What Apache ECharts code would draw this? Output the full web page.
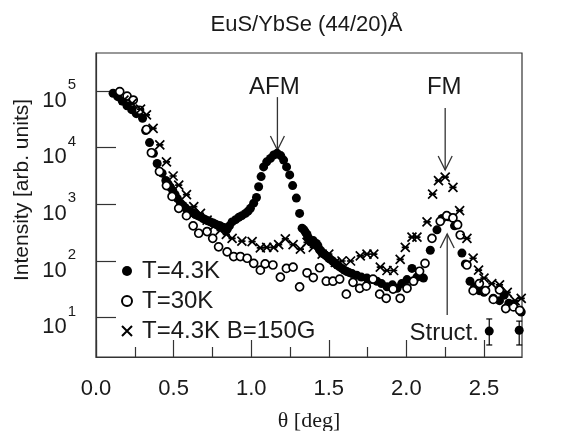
<!DOCTYPE html>
<html><head><meta charset="utf-8">
<script src="https://cdn.jsdelivr.net/npm/echarts@6/dist/echarts.min.js"></script>
<style>html,body{margin:0;padding:0;background:#fff}#c{width:561px;height:431px}</style>
</head><body><div id="c"></div>
<script>
// ---- data (theta in deg, intensity in arb. units) ----
const thetaA = [0.11,0.14,0.17,0.20,0.23,0.26,0.30,0.32,0.345,0.37,0.394,0.426,0.45,0.465,0.48,0.495,0.51,0.525,0.545,0.56,0.575,0.59,0.608,0.625,0.64,0.655,0.673,0.69,0.705,0.72,0.737,0.755,0.77,0.785,0.80,0.81,0.825,0.835,0.845,0.86,0.877,0.90,0.92,0.94,0.963,0.98,0.995,1.016,1.034,1.048,1.064,1.08,1.10,1.124,1.145,1.167,1.19,1.209,1.228,1.248,1.267,1.291,1.312,1.328,1.34,1.349,1.36,1.365,1.37,1.381,1.39,1.40,1.41,1.42,1.43,1.44,1.45,1.456,1.47,1.48,1.49,1.50,1.51,1.525,1.54,1.553,1.57,1.585,1.60,1.617,1.63,1.65,1.68,1.71,1.746,1.78,1.81,1.84,1.875,1.91,1.94,1.97,2.004,2.036,2.068,2.11,2.154,2.197,2.23,2.27,2.31,2.358,2.38,2.41,2.44,2.47,2.50,2.534,2.56,2.60,2.63,2.66,2.69,2.727,2.74];
const intA = [91200,79400,66100,55000,46800,39800,33100,20000,12300,7940,5250,3550,2630,2290,2000,1740,1480,1260,1050,955,871,794,741,708,661,631,603,562,537,513,490,468,447,427,417,398,389,372,363,417,490,537,589,631,692,759,851,1050,1320,2040,3090,4570,5620,6460,7410,7940,7240,6030,4570,3310,2140,1290,692,380,355,324,295,263,251,219,214,229,200,204,186,158,151,138,132,126,120,112,107,100,91,85,79,74,69,65,63,60,56,52,50,47,44,40,35,38,33,40,47,74,52,50,155,355,562,603,417,138,89,44,35,30,28,5.8,22,20,25,18,16,6.0,12.6];

const thetaB = [0.153,0.20,0.24,0.28,0.325,0.357,0.409,0.454,0.49,0.533,0.583,0.626,0.662,0.716,0.752,0.79,0.845,0.887,0.93,0.974,1.016,1.059,1.09,1.14,1.188,1.227,1.27,1.312,1.36,1.40,1.441,1.484,1.527,1.57,1.613,1.656,1.699,1.742,1.785,1.828,1.87,1.914,1.96,2.004,2.046,2.085,2.12,2.165,2.218,2.26,2.30,2.33,2.347,2.39,2.43,2.47,2.51,2.56,2.60,2.64,2.69,2.73];
const intB = [97700,81300,69200,45700,20900,8130,3800,2140,1380,851,631,417,309,331,251,178,145,120,120,112,91,69,89,85,52,74,78,35,62,51,76,44,44,48,26,42,33,36,48,26,22,32,22,33,44,66,91,251,501,631,575,437,288,85,30,40,30,21,31,14.5,15.5,13.5];

const thetaC = [0.18,0.233,0.287,0.325,0.368,0.411,0.454,0.497,0.533,0.583,0.63,0.673,0.716,0.76,0.80,0.84,0.877,0.94,1.006,1.059,1.10,1.145,1.177,1.22,1.27,1.317,1.36,1.40,1.457,1.50,1.542,1.585,1.64,1.703,1.746,1.79,1.832,1.875,1.918,1.96,1.993,2.036,2.068,2.133,2.169,2.207,2.25,2.30,2.343,2.39,2.43,2.465,2.50,2.55,2.60,2.65,2.70,2.74];
const intC = [69200,60300,47900,38000,21900,11200,5620,3160,2190,1480,912,692,525,417,347,295,251,224,219,170,174,174,195,245,195,162,214,174,132,132,95,100,100,123,132,132,78,68,68,107,174,263,263,490,1510,2630,3020,2000,776,251,112,69,50,40,38,28,20,22];

// error bars (T=4.3K tail)
const errTheta = [2.534, 2.727];
const errLow = [3.3, 3.3];
const errHigh = [9.5, 8.7];

const seriesNames = ['T=4.3K', 'T=30K', 'T=4.3K B=150G'];
const xMajorTicks = [0, 0.5, 1.0, 1.5, 2.0, 2.5];
const xMinorTicks = [0.25, 0.75, 1.25, 1.75, 2.25, 2.75];
const yTicks = [10, 100, 1000, 10000, 100000];
const titleText = 'EuS/YbSe (44/20)Å';
const xTitle = 'θ [deg]';
const yTitle = 'Intensity [arb. units]';

const pair = (xs, ys) => xs.map((x, i) => [x, ys[i]]);
const crossPath = 'path://M0,0L10,10M10,0L0,10M1,5L9,5';
const crossLegend = 'path://M0,0L10,10M10,0L0,10';
const ink = '#1a1a1a';
const SANS = 'Liberation Sans, Arial, Helvetica, sans-serif';

const chart = echarts.init(document.getElementById('c'));
chart.setOption({
  animation: false,
  backgroundColor: '#fff',
  grid: { left: 96, right: 39, top: 53, bottom: 74, containLabel: false, outerBoundsMode: 'none',
    show: true, borderColor: '#333', borderWidth: 1.2, backgroundColor: 'transparent' },
  xAxis: [{
    type: 'value', min: 0, max: 2.745,
    name: xTitle, nameLocation: 'middle', nameGap: 53,
    nameTextStyle: { fontFamily: 'Liberation Serif, Times New Roman, serif', fontSize: 22, color: ink },
    axisLine: { show: true, lineStyle: { color: '#333', width: 1.2 } },
    axisTick: { show: true, inside: true, length: 17, customValues: xMajorTicks, lineStyle: { color: '#333', width: 1.2 } },
    axisLabel: { customValues: xMajorTicks, formatter: v => v.toFixed(1), fontFamily: SANS, fontSize: 22, color: ink, margin: 21 },
    splitLine: { show: false }
  }, {
    type: 'value', min: 0, max: 2.745, position: 'bottom',
    axisLine: { show: false },
    axisTick: { show: true, inside: true, length: 10, customValues: xMinorTicks, lineStyle: { color: '#333', width: 1.2 } },
    axisLabel: { show: false }, splitLine: { show: false }
  }],
  yAxis: {
    type: 'log', logBase: 10, min: 2.025, max: 468000,
    axisLine: { show: true, lineStyle: { color: '#333', width: 1.2 } },
    axisTick: { show: true, inside: true, length: 20, customValues: yTicks, lineStyle: { color: '#333', width: 1.2 } },
    axisLabel: {
      customValues: yTicks, margin: 20, color: ink, padding: [7, 0, 0, 0],
      formatter: v => '{b|10}{s|' + Math.round(Math.log10(v)) + '}',
      rich: {
        b: { fontFamily: SANS, fontSize: 22, color: ink, padding: [12, 0, 0, 0], verticalAlign: 'bottom' },
        s: { fontFamily: SANS, fontSize: 15, color: ink, verticalAlign: 'top', padding: [0, 0, 0, 1] }
      }
    },
    splitLine: { show: false }
  },
  legend: {
    orient: 'vertical', left: 121, top: 259, padding: 0, itemGap: 6,
    itemWidth: 10, itemHeight: 10,
    textStyle: { fontFamily: SANS, fontSize: 24, color: ink, padding: [0, 0, 0, 5] },
    data: [
      { name: seriesNames[0], icon: 'circle' },
      { name: seriesNames[1], icon: 'circle' },
      { name: seriesNames[2], icon: crossLegend }
    ]
  },
  series: [
    { name: seriesNames[0], type: 'scatter', data: pair(thetaA, intA), symbol: 'circle', symbolSize: 9,
      itemStyle: { color: '#000', opacity: 1 }, z: 2 },
    { name: seriesNames[1], type: 'scatter', data: pair(thetaB, intB), symbol: 'circle', symbolSize: 8,
      itemStyle: { color: '#fff', borderColor: '#000', borderWidth: 1.7, opacity: 1 }, z: 3 },
    { name: seriesNames[2], type: 'scatter', data: pair(thetaC, intC), symbol: crossPath, symbolSize: 9,
      itemStyle: { color: 'rgba(0,0,0,0)', borderColor: '#000', borderWidth: 1.7, opacity: 1 }, z: 4 },
    { name: 'err', type: 'custom', z: 5,
      data: errTheta.map((t, i) => [t, errLow[i], errHigh[i]]),
      encode: { x: 0, y: [1, 2] },
      renderItem: (params, api) => {
        const lo = api.coord([api.value(0), api.value(1)]);
        const hi = api.coord([api.value(0), api.value(2)]);
        const st = { stroke: '#000', lineWidth: 1.2 };
        return { type: 'group', children: [
          { type: 'line', shape: { x1: lo[0], y1: lo[1], x2: hi[0], y2: hi[1] }, style: st },
          { type: 'line', shape: { x1: lo[0] - 3, y1: lo[1], x2: lo[0] + 3, y2: lo[1] }, style: st },
          { type: 'line', shape: { x1: hi[0] - 3, y1: hi[1], x2: hi[0] + 3, y2: hi[1] }, style: st }
        ]};
      }
    }
  ]
});

// annotations placed in data coordinates
const annotations = [
  { text: 'AFM', tx: 1.149, ty: 118000, ax: 1.169, from: 78000, to: 9100, dir: 'down' },
  { text: 'FM', tx: 2.244, ty: 118000, ax: 2.250, from: 50100, to: 4040, dir: 'down' },
  { text: 'Struct.', tx: 2.244, ty: 5.3, ax: 2.263, from: 11.1, to: 300, dir: 'up' }
];
const px = (x, y) => chart.convertToPixel({ xAxisIndex: 0, yAxisIndex: 0 }, [x, y]);
const gr = [];
annotations.forEach(a => {
  const t = px(a.tx, a.ty);
  gr.push({ type: 'text', x: t[0], y: t[1], style: { text: a.text, fontFamily: SANS, fontSize: 24, fill: ink, align: 'center', verticalAlign: 'middle' } });
  const p1 = px(a.ax, a.from), p2 = px(a.ax, a.to);
  const s = { stroke: '#333', lineWidth: 1.3, fill: null };
  gr.push({ type: 'line', shape: { x1: p1[0], y1: p1[1], x2: p2[0], y2: p2[1] }, style: s });
  const d = a.dir === 'down' ? -14 : 14;
  gr.push({ type: 'polyline', shape: { points: [[p2[0] - 7, p2[1] + d], [p2[0], p2[1]], [p2[0] + 7, p2[1] + d]] }, style: s });
});
gr.push({ type: 'text', x: 306.5, y: 25, style: { text: titleText, fontFamily: SANS, fontSize: 22, fill: ink, align: 'center', verticalAlign: 'middle' } });
gr.push({ type: 'text', x: 22, y: 190, rotation: Math.PI / 2, style: { text: yTitle, fontFamily: SANS, fontSize: 21, fill: ink, align: 'center', verticalAlign: 'middle' } });
chart.setOption({ graphic: gr });
</script>
</body></html>
